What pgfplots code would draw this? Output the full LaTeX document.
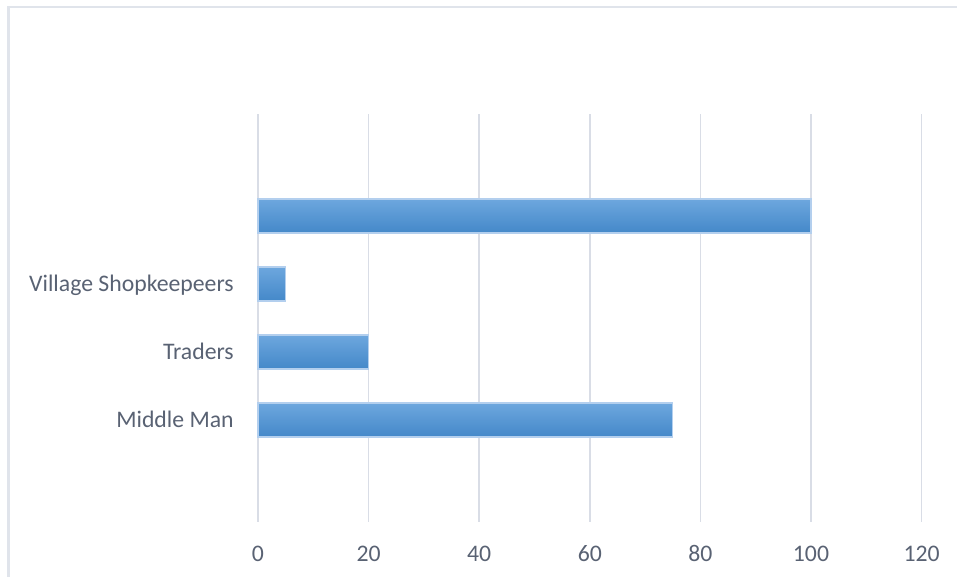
\documentclass[border=0pt]{standalone}
\usepackage{pgfplots}
\pgfplotsset{compat=1.18}
\usepackage{fontspec}
\setmainfont{Carlito}
\definecolor{txt}{HTML}{596273}
\definecolor{gridc}{HTML}{D9DDE6}
\definecolor{framec}{HTML}{E0E4EB}
\definecolor{bartop}{HTML}{6DA7DE}
\definecolor{barbot}{HTML}{4488C9}
\definecolor{baredge}{HTML}{B3CFEE}
\begin{document}
\begin{tikzpicture}
\useasboundingbox (0,0) rectangle (717.75pt,432.75pt);
\clip (0,0) rectangle (717.75pt,432.75pt);
\draw[framec, line width=2pt] (6.5pt,-5pt) -- (6.5pt,427.5pt) -- (730pt,427.5pt);
\begin{axis}[
  at={(193.5pt,41.25pt)}, anchor=south west,
  scale only axis,
  width=497.7pt, height=306pt,
  xmin=0, xmax=120,
  ymin=-1.5, ymax=4.5,
  xtick={0,20,40,60,80,100,120},
  ytick={0,1,2,3},
  yticklabels={Middle Man,Traders,Village Shopkeepeers,{}},
  axis line style={draw=none},
  major tick length=0pt,
  xmajorgrids, ymajorgrids=false,
  major grid style={draw=gridc, line width=1.3pt},
  xticklabel style={anchor=base, yshift=-30pt, inner sep=0pt, font=\fontsize{17.8}{21}\selectfont, text=txt},
  yticklabel style={anchor=base east, xshift=-18pt, yshift=-5.7pt, inner sep=0pt, font=\fontsize{17.8}{21}\selectfont, text=txt},
  /pgf/number format/assume math mode=true,
  clip=false,
  mybar/.style={xbar, bar width=0.5, bar shift=0pt, draw=baredge, line width=0.8pt, top color=bartop, bottom color=barbot},
]
\addplot[mybar] coordinates {(75,0)};
\addplot[mybar] coordinates {(20,1)};
\addplot[mybar] coordinates {(5,2)};
\addplot[mybar] coordinates {(100,3)};
\end{axis}
\end{tikzpicture}
\end{document}
